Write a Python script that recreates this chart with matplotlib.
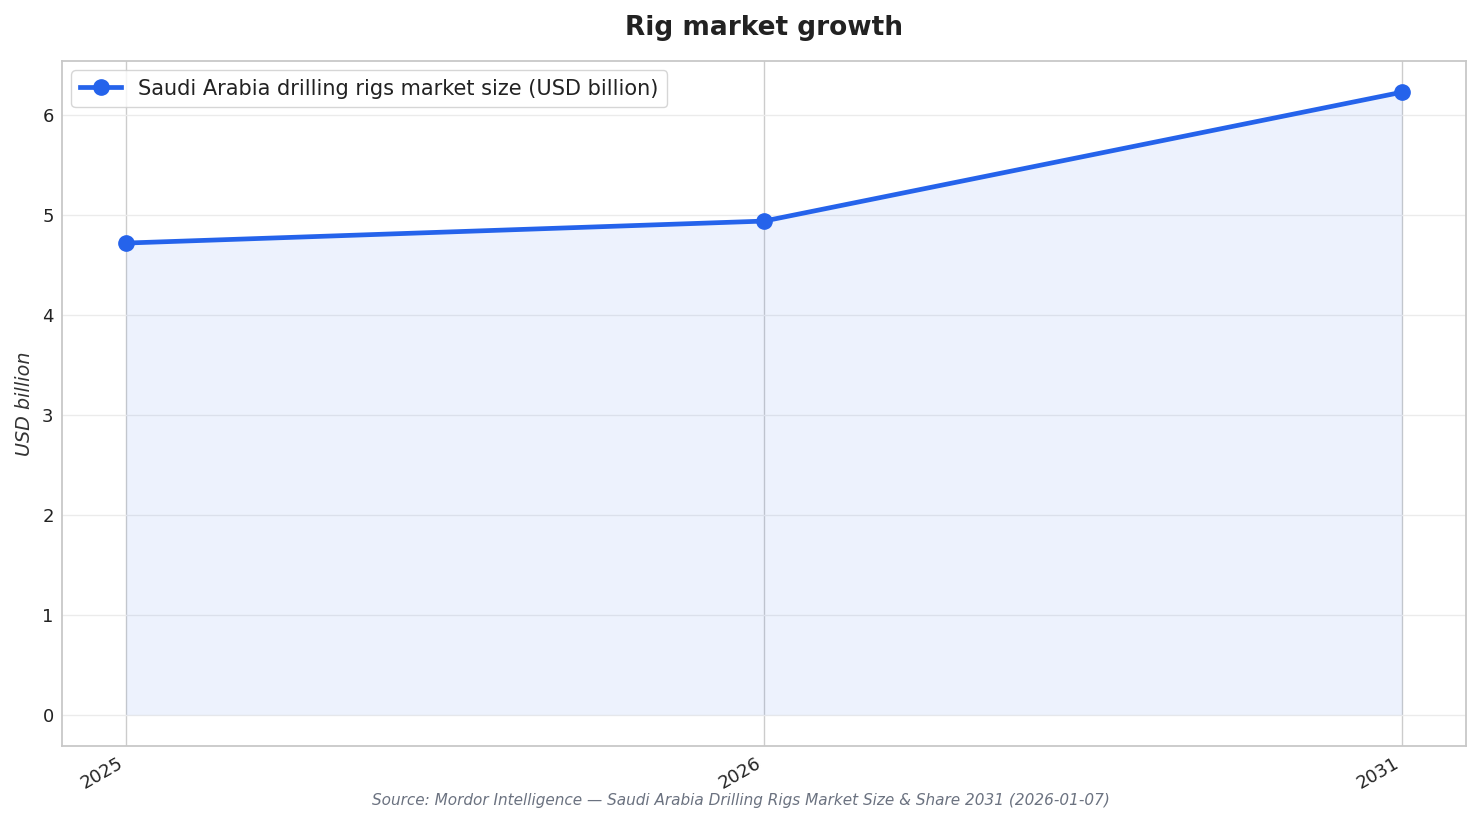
import matplotlib
matplotlib.use("Agg")
import matplotlib.pyplot as plt
import numpy as np

years = ["2025", "2026", "2031"]
values = [4.72, 4.94, 6.23]
series_label = "Saudi Arabia drilling rigs market size (USD billion)"

plt.rcParams['font.family'] = ['DejaVu Sans']

fig = plt.figure(figsize=(14.82, 8.24), dpi=100)
ax = fig.add_axes([62/1482, 1-746/824, (1466-62)/1482, (746-61)/824])

x = np.arange(len(years))
color = "#2563eb"
ax.fill_between(x, 0, values, color=color, alpha=0.08, linewidth=0)
ax.plot(x, values, color=color, linewidth=3.4, marker="o", markersize=11, label=series_label, zorder=3)

ax.set_xticks(x)
ax.set_xticklabels(years)
for lbl in ax.get_xticklabels():
    lbl.set_rotation(30)
    lbl.set_ha("right")
ax.tick_params(axis="both", labelsize=13, length=0, colors="#222222")
ax.tick_params(axis="x", pad=6)
ax.tick_params(axis="y", pad=6)

ax.yaxis.grid(True, color="#ebebeb", linewidth=1)
ax.xaxis.grid(True, color="#cccccc", linewidth=1)
ax.set_axisbelow(True)
for s in ax.spines.values():
    s.set_color("#c8c8c8")
    s.set_linewidth(1.3)

ax.set_ylabel("USD billion", fontsize=13.8, style="italic", color="#333333", labelpad=6)
ax.set_title("Rig market growth", fontsize=19, fontweight="bold", color="#222222", pad=19)

leg = ax.legend(loc="upper left", fontsize=15, frameon=True, borderaxespad=0.45)
leg.get_frame().set_edgecolor("#cccccc")
for t in leg.get_texts():
    t.set_color("#222222")

fig.text(0.5, 1-800/824, "Source: Mordor Intelligence \u2014 Saudi Arabia Drilling Rigs Market Size & Share 2031 (2026-01-07)",
         ha="center", va="center", fontsize=11, style="italic", color="#6b7280")

fig.savefig("out.png", dpi=100)
